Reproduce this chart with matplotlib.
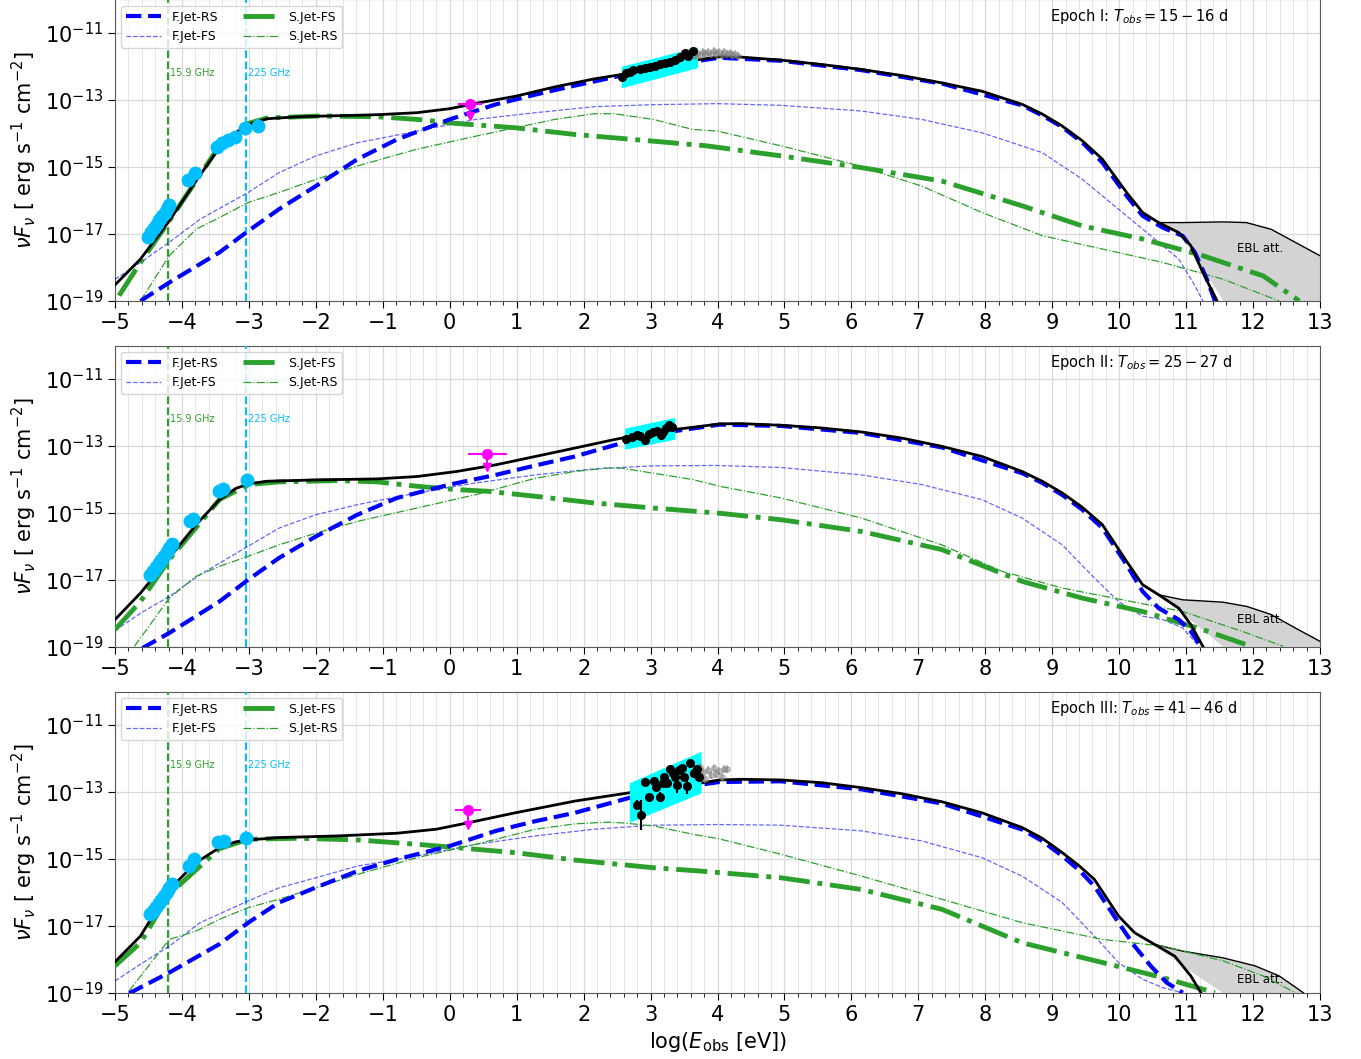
import numpy as np
import matplotlib
matplotlib.use("Agg")
import matplotlib.pyplot as plt
from matplotlib.ticker import MultipleLocator, FixedLocator, NullLocator

# ---------------- data (log10 E [eV], log10 nuFnu) ----------------
epoch_labels = [r"Epoch I: $T_{obs} = 15-16$ d",
                r"Epoch II: $T_{obs} = 25-27$ d",
                r"Epoch III: $T_{obs} = 41-46$ d"]
legend_names = ["F.Jet-RS", "F.Jet-FS", "S.Jet-FS", "S.Jet-RS"]
radio_lines_x = [-4.21, -3.04]
radio_lines_lab = ["15.9 GHz", "225 GHz"]
ebl_text_y = [-17.42, -18.19, -18.61]

# ---- Epoch I ----
p1_tot_x = [-5.0, -4.62, -4.19, -3.79, -3.44, -3.20, -3.01, -2.73, -2.26, -1.08, -0.49, 0.0, 0.45, 0.98, 1.57, 2.16, 2.57, 3.04, 3.63, 4.03,
            4.35, 4.95, 5.55, 6.15, 6.75, 7.35, 7.95, 8.55, 8.85, 9.15, 9.45, 9.75, 10.11, 10.35, 10.59, 10.89, 11.07, 11.25, 11.46]
p1_tot_y = [-18.52, -17.75, -16.61, -15.42, -14.42, -13.98, -13.73, -13.56, -13.50, -13.44, -13.38, -13.26, -13.08, -12.89, -12.61, -12.37, -12.24, -12.04, -11.82, -11.71,
            -11.72, -11.81, -11.94, -12.09, -12.27, -12.49, -12.74, -13.13, -13.42, -13.78, -14.22, -14.77, -15.76, -16.36, -16.66, -16.96, -17.35, -18.15, -18.99]
p1_ebl_x = [10.59, 10.95, 11.55, 11.90, 12.27, 12.63, 13.0]
p1_ebl_y = [-16.66, -16.66, -16.64, -16.66, -16.86, -17.25, -17.65]
p1_frs_x = [-4.62, -4.19, -3.44, -3.01, -2.55, -2.0, -1.38, -0.79, 0.0, 0.69, 1.28, 1.87, 2.57, 3.34, 4.03, 4.95, 6.15, 7.35, 8.55, 8.85, 9.15, 9.45, 9.75, 10.11, 10.35, 10.65, 10.95, 11.13, 11.31, 11.43]
p1_frs_y = [-19.0, -18.45, -17.55, -16.91, -16.26, -15.57, -14.77, -14.18, -13.58, -13.13, -12.84, -12.57, -12.27, -11.94, -11.74, -11.83, -12.11, -12.51, -13.16, -13.46, -13.81, -14.27, -14.87, -15.86, -16.46, -16.81, -17.06, -17.55, -18.35, -19.0]
p1_ffs_x = [-5.0, -4.62, -4.19, -3.73, -3.01, -2.55, -2.0, -1.38, -0.49, 0.39, 1.28, 2.16, 3.04, 4.0, 4.95, 6.15, 7.05, 7.95, 8.85, 9.45, 10.05, 10.53, 10.89, 11.13, 11.25]
p1_ffs_y = [-18.35, -17.85, -17.25, -16.56, -15.76, -15.17, -14.67, -14.28, -13.93, -13.58, -13.38, -13.20, -13.14, -13.11, -13.16, -13.33, -13.58, -13.98, -14.57, -15.37, -16.36, -17.15, -17.75, -18.54, -19.0]
p1_sfs_x = [-4.94, -4.62, -4.19, -3.44, -3.01, -2.73, -1.97, -1.08, -0.49, 0.09, 0.98, 1.87, 3.04, 3.84, 4.95, 6.15, 7.35, 8.55, 9.45, 10.35, 11.25, 12.15, 12.69]
p1_sfs_y = [-18.84, -17.85, -16.61, -14.37, -13.70, -13.54, -13.48, -13.50, -13.58, -13.70, -13.83, -14.03, -14.23, -14.37, -14.67, -15.02, -15.42, -16.16, -16.76, -17.15, -17.65, -18.25, -19.0]
p1_srs_x = [-4.62, -4.19, -3.79, -3.44, -3.01, -2.55, -2.0, -1.38, -0.49, 0.39, 0.98, 1.57, 2.16, 2.45, 3.04, 3.63, 4.0, 4.95, 6.03, 7.05, 7.95, 8.85, 9.75, 10.65, 11.55, 12.39]
p1_srs_y = [-19.0, -17.65, -16.86, -16.51, -16.06, -15.76, -15.37, -14.97, -14.47, -14.08, -13.83, -13.58, -13.41, -13.41, -13.58, -13.88, -13.93, -14.37, -14.92, -15.57, -16.36, -17.05, -17.45, -17.85, -18.35, -19.0]
p1_radio_x = [-4.50, -4.46, -4.42, -4.38, -4.34, -4.30, -4.26, -4.22, -4.19, -3.91, -3.80, -3.48, -3.40, -3.31, -3.21, -3.06, -2.86]
p1_radio_y = [-17.08, -16.95, -16.83, -16.70, -16.59, -16.47, -16.36, -16.24, -16.13, -15.39, -15.18, -14.40, -14.28, -14.19, -14.10, -13.84, -13.78]
p1_radio_err = [0.05, 0.05, 0.05, 0.05, 0.05, 0.05, 0.05, 0.05, 0.05, 0.05, 0.05, 0.05, 0.05, 0.05, 0.05, 0.08, 0.22]
p1_ul = [0.30, -13.13, 0.17, 0.18, 0.35]   # x, y, xerr_lo, xerr_hi, arrow length (dex)
p1_band_x = [2.57, 3.71]
p1_band_lo = [-12.65, -12.05]
p1_band_hi = [-12.01, -11.43]
p1_xr_x = [2.57, 2.64, 2.69, 2.74, 2.84, 2.92, 2.99, 3.06, 3.14, 3.22, 3.29, 3.37, 3.44, 3.51, 3.56, 3.64]
p1_xr_y = [-12.30, -12.20, -12.16, -12.10, -12.08, -12.05, -12.02, -11.99, -11.93, -11.90, -11.86, -11.81, -11.73, -11.61, -11.69, -11.53]
p1_xr_err = [0.05] * 16
p1_gray_x = [3.58, 3.62, 3.66, 3.70, 3.74, 3.78, 3.82, 3.86, 3.90, 3.94, 3.98, 4.02, 4.06, 4.10, 4.14, 4.18, 4.22, 4.26, 4.30]
p1_gray_y = [-11.70, -11.62, -11.68, -11.60, -11.66, -11.58, -11.64, -11.57, -11.63, -11.55, -11.62, -11.58, -11.65, -11.57, -11.63, -11.60, -11.66, -11.62, -11.68]

# ---- Epoch II ----
p2_tot_x = [-5.0, -4.62, -4.19, -3.79, -3.44, -3.20, -3.01, -2.73, -1.97, -1.08, -0.49, 0.10, 0.69, 1.28, 1.87, 2.45, 3.04, 3.63, 4.03,
            4.35, 4.95, 5.55, 6.15, 6.75, 7.35, 7.95, 8.55, 8.85, 9.15, 9.45, 9.75, 10.11, 10.35, 10.59, 10.89, 11.07, 11.25]
p2_tot_y = [-18.18, -17.39, -16.34, -15.35, -14.60, -14.27, -14.13, -14.05, -14.01, -13.98, -13.91, -13.76, -13.56, -13.31, -13.06, -12.81, -12.58, -12.44, -12.34,
            -12.33, -12.38, -12.46, -12.58, -12.76, -13.01, -13.31, -13.76, -14.05, -14.40, -14.83, -15.35, -16.44, -17.14, -17.44, -17.84, -18.33, -18.98]
p2_ebl_x = [10.59, 10.95, 11.55, 11.91, 12.27, 12.63, 13.0]
p2_ebl_y = [-17.44, -17.59, -17.66, -17.79, -18.03, -18.43, -18.83]
p2_frs_x = [-4.59, -4.19, -3.44, -3.01, -2.55, -2.0, -1.38, -0.79, 0.0, 0.69, 1.28, 1.87, 2.57, 3.34, 4.03, 4.95, 6.15, 7.35, 8.55, 8.85, 9.15, 9.45, 9.75, 10.11, 10.35, 10.59, 10.89, 11.07, 11.22]
p2_frs_y = [-19.03, -18.58, -17.64, -16.99, -16.34, -15.70, -15.05, -14.55, -14.15, -13.86, -13.58, -13.31, -12.91, -12.56, -12.36, -12.40, -12.61, -13.04, -13.81, -14.10, -14.46, -14.90, -15.45, -16.54, -17.34, -17.84, -18.18, -18.53, -18.98]
p2_ffs_x = [-5.0, -4.62, -4.19, -3.73, -3.01, -2.55, -2.0, -1.38, -0.49, 0.39, 1.28, 2.16, 3.04, 4.0, 4.95, 6.15, 7.05, 7.95, 8.55, 9.15, 9.63, 9.99, 10.35, 10.65, 10.95, 11.19]
p2_ffs_y = [-18.51, -17.99, -17.49, -16.84, -15.99, -15.45, -15.05, -14.75, -14.40, -14.10, -13.86, -13.68, -13.59, -13.58, -13.64, -13.86, -14.15, -14.60, -15.15, -15.95, -16.94, -17.64, -18.08, -18.18, -18.43, -18.98]
p2_sfs_x = [-5.0, -4.62, -4.19, -3.44, -3.01, -2.55, -1.67, -1.08, -0.49, 0.10, 0.57, 1.28, 2.16, 3.04, 4.0, 4.95, 6.15, 7.35, 8.55, 9.45, 10.35, 11.25, 11.97]
p2_sfs_y = [-18.48, -17.64, -16.39, -14.60, -14.15, -14.07, -14.03, -14.07, -14.20, -14.30, -14.35, -14.50, -14.70, -14.85, -15.00, -15.20, -15.55, -16.09, -17.04, -17.54, -17.94, -18.48, -18.98]
p2_srs_x = [-4.71, -4.19, -3.79, -3.44, -3.01, -2.55, -2.0, -1.38, -0.49, 0.39, 1.28, 1.87, 2.34, 2.57, 3.04, 3.63, 4.03, 4.95, 6.15, 7.35, 8.25, 9.15, 10.05, 10.95, 11.85, 12.45]
p2_srs_y = [-18.98, -17.54, -16.89, -16.59, -16.29, -15.95, -15.60, -15.25, -14.85, -14.45, -13.96, -13.76, -13.66, -13.66, -13.81, -14.00, -14.20, -14.55, -15.15, -15.95, -16.74, -17.24, -17.59, -17.94, -18.54, -18.98]
p2_radio_x = [-4.47, -4.43, -4.39, -4.35, -4.31, -4.27, -4.23, -4.19, -4.15, -3.88, -3.84, -3.44, -3.38, -3.03]
p2_radio_y = [-16.84, -16.73, -16.61, -16.50, -16.39, -16.27, -16.16, -16.04, -15.93, -15.23, -15.17, -14.35, -14.29, -14.02]
p2_radio_err = [0.05] * 14
p2_ul = [0.56, -13.24, 0.29, 0.29, 0.40]
p2_band_x = [2.62, 3.37]
p2_band_lo = [-13.11, -12.81]
p2_band_hi = [-12.48, -12.16]
p2_xr_x = [2.63, 2.72, 2.80, 2.84, 2.91, 2.98, 3.04, 3.09, 3.15, 3.19, 3.23, 3.28, 3.32]
p2_xr_y = [-12.78, -12.74, -12.66, -12.71, -12.81, -12.64, -12.58, -12.54, -12.66, -12.58, -12.46, -12.38, -12.44]
p2_xr_err = [0.05] * 13
p2_gray_x = []
p2_gray_y = []

# ---- Epoch III ----
p3_tot_x = [-5.0, -4.62, -4.19, -3.79, -3.44, -3.20, -3.01, -2.55, -1.67, -0.79, -0.20, 0.27, 0.98, 1.87, 2.69, 3.34, 4.03,
            4.35, 4.95, 5.55, 6.15, 6.75, 7.35, 7.95, 8.55, 8.85, 9.15, 9.40, 9.63, 9.99, 10.23, 10.53, 10.83, 11.07, 11.22]
p3_tot_y = [-18.07, -17.30, -15.91, -15.11, -14.66, -14.49, -14.43, -14.36, -14.31, -14.23, -14.11, -13.92, -13.62, -13.27, -13.02, -12.87, -12.64,
            -12.62, -12.64, -12.72, -12.87, -13.05, -13.29, -13.62, -14.06, -14.38, -14.81, -15.20, -15.61, -16.70, -17.20, -17.55, -17.90, -18.49, -18.99]
p3_ebl_x = [10.53, 10.95, 11.55, 12.03, 12.39, 12.75]
p3_ebl_y = [-17.55, -17.75, -17.95, -18.19, -18.49, -18.99]
p3_frs_x = [-4.79, -4.19, -3.44, -3.01, -2.55, -2.0, -1.38, -0.79, 0.0, 0.69, 1.28, 1.87, 2.69, 3.34, 4.03, 4.95, 6.15, 7.35, 8.55, 8.85, 9.15, 9.40, 9.63, 9.99, 10.23, 10.47, 10.71, 10.95]
p3_frs_y = [-19.01, -18.39, -17.54, -16.90, -16.30, -15.85, -15.36, -15.01, -14.61, -14.16, -13.87, -13.62, -13.17, -12.90, -12.70, -12.68, -12.92, -13.34, -14.12, -14.46, -14.91, -15.33, -15.81, -16.90, -17.60, -18.19, -18.69, -18.99]
p3_ffs_x = [-5.0, -4.62, -4.19, -3.73, -3.01, -2.55, -2.0, -1.38, -0.49, 0.39, 1.28, 2.16, 3.04, 4.0, 4.95, 6.15, 7.05, 7.95, 8.55, 9.15, 9.63, 9.99, 10.35, 10.65, 10.95]
p3_ffs_y = [-18.64, -18.14, -17.60, -16.90, -16.25, -15.86, -15.56, -15.21, -14.91, -14.56, -14.31, -14.11, -13.99, -13.97, -13.99, -14.16, -14.46, -14.96, -15.51, -16.30, -17.30, -18.09, -18.59, -18.84, -18.99]
p3_sfs_x = [-5.0, -4.62, -4.19, -3.44, -3.01, -2.26, -1.38, -0.49, 0.10, 0.98, 1.87, 3.04, 3.75, 4.95, 6.15, 7.35, 8.55, 9.75, 10.65, 11.43]
p3_sfs_y = [-18.19, -17.50, -16.05, -14.69, -14.41, -14.38, -14.43, -14.56, -14.66, -14.81, -15.03, -15.26, -15.36, -15.56, -15.91, -16.50, -17.50, -18.09, -18.54, -18.99]
p3_srs_x = [-4.79, -4.19, -3.79, -3.44, -3.01, -2.55, -2.0, -1.38, -0.49, 0.39, 1.28, 1.87, 2.34, 2.57, 3.04, 3.63, 4.03, 4.95, 6.15, 7.35, 8.55, 9.75, 10.65, 11.55, 12.15, 12.63]
p3_srs_y = [-18.94, -17.40, -17.15, -16.80, -16.45, -16.20, -15.86, -15.46, -14.96, -14.56, -14.11, -13.95, -13.90, -13.92, -14.01, -14.26, -14.40, -14.86, -15.51, -16.20, -16.90, -17.40, -17.60, -18.04, -18.49, -18.99]
p3_radio_x = [-4.47, -4.43, -4.39, -4.35, -4.31, -4.27, -4.23, -4.19, -4.15, -3.90, -3.82, -3.46, -3.37, -3.04]
p3_radio_y = [-16.65, -16.54, -16.43, -16.32, -16.21, -16.09, -15.98, -15.87, -15.76, -15.21, -14.99, -14.49, -14.46, -14.37]
p3_radio_err = [0.05] * 14
p3_ul = [0.27, -13.54, 0.19, 0.20, 0.43]
p3_band_x = [2.69, 3.76]
p3_band_lo = [-13.92, -13.04]
p3_band_hi = [-12.74, -11.80]
p3_xr_x = [2.79, 2.85, 2.92, 2.98, 3.05, 3.08, 3.14, 3.18, 3.20, 3.24, 3.29, 3.33, 3.37, 3.40, 3.43, 3.47, 3.50, 3.54, 3.59, 3.65, 3.70, 3.72]
p3_xr_y = [-13.39, -13.69, -12.69, -13.16, -12.67, -12.84, -13.14, -12.74, -12.54, -12.74, -12.32, -12.42, -12.54, -12.79, -12.34, -12.29, -12.54, -12.82, -12.13, -12.44, -12.32, -12.54]
p3_xr_err = [0.15, 0.45, 0.08, 0.12, 0.08, 0.10, 0.15, 0.08, 0.08, 0.08, 0.10, 0.08, 0.10, 0.25, 0.08, 0.08, 0.10, 0.25, 0.08, 0.10, 0.10, 0.12]
p3_gray_x = [3.62, 3.66, 3.70, 3.74, 3.78, 3.82, 3.86, 3.90, 3.94, 3.98, 4.02, 4.06, 4.10, 4.14]
p3_gray_y = [-12.45, -12.30, -12.55, -12.25, -12.40, -12.62, -12.35, -12.50, -12.28, -12.45, -12.38, -12.55, -12.32, -12.30]

panels = [
    dict(tot=(p1_tot_x, p1_tot_y), ebl=(p1_ebl_x, p1_ebl_y), frs=(p1_frs_x, p1_frs_y), ffs=(p1_ffs_x, p1_ffs_y),
         sfs=(p1_sfs_x, p1_sfs_y), srs=(p1_srs_x, p1_srs_y), radio=(p1_radio_x, p1_radio_y, p1_radio_err), ul=p1_ul,
         band=(p1_band_x, p1_band_lo, p1_band_hi), xr=(p1_xr_x, p1_xr_y, p1_xr_err), gray=(p1_gray_x, p1_gray_y)),
    dict(tot=(p2_tot_x, p2_tot_y), ebl=(p2_ebl_x, p2_ebl_y), frs=(p2_frs_x, p2_frs_y), ffs=(p2_ffs_x, p2_ffs_y),
         sfs=(p2_sfs_x, p2_sfs_y), srs=(p2_srs_x, p2_srs_y), radio=(p2_radio_x, p2_radio_y, p2_radio_err), ul=p2_ul,
         band=(p2_band_x, p2_band_lo, p2_band_hi), xr=(p2_xr_x, p2_xr_y, p2_xr_err), gray=(p2_gray_x, p2_gray_y)),
    dict(tot=(p3_tot_x, p3_tot_y), ebl=(p3_ebl_x, p3_ebl_y), frs=(p3_frs_x, p3_frs_y), ffs=(p3_ffs_x, p3_ffs_y),
         sfs=(p3_sfs_x, p3_sfs_y), srs=(p3_srs_x, p3_srs_y), radio=(p3_radio_x, p3_radio_y, p3_radio_err), ul=p3_ul,
         band=(p3_band_x, p3_band_lo, p3_band_hi), xr=(p3_xr_x, p3_xr_y, p3_xr_err), gray=(p3_gray_x, p3_gray_y)),
]

# ---------------- figure ----------------
fig = plt.figure(figsize=(13.61, 10.59), dpi=100)
left, width, height = 0.0845, 0.8854, 0.2847
bottoms = [0.7158, 0.3890, 0.0623]

GREEN = "#2ca02c"
CYANL = "#00bfff"

def P(a):
    return 10.0 ** np.asarray(a, dtype=float)

for i, (d, b) in enumerate(zip(panels, bottoms)):
    ax = fig.add_axes([left, b, width, height])
    ax.set_yscale("log")
    ax.set_xlim(-5, 13)
    ax.set_ylim(1e-19, 1e-10)

    # EBL shaded region
    ex, ey = d["ebl"]
    tx, ty = d["tot"]
    low = np.interp(ex, tx, ty)
    ax.fill_between(ex, P(low), P(ey), color="#d3d3d3", zorder=1, lw=0)
    ax.plot(ex, P(ey), color="black", lw=1.0, zorder=3)
    ax.text(12.1, 10 ** ebl_text_y[i], "EBL att.", fontsize=8.5, ha="center", va="center", zorder=4)

    # model curves
    h1, = ax.plot(d["frs"][0], P(d["frs"][1]), color="blue", ls="--", lw=3.0, zorder=5)
    h2, = ax.plot(d["ffs"][0], P(d["ffs"][1]), color="blue", ls="--", lw=0.9, alpha=0.6, zorder=4)
    h3, = ax.plot(d["sfs"][0], P(d["sfs"][1]), color=GREEN, ls="-.", lw=3.5, zorder=4)
    h4, = ax.plot(d["srs"][0], P(d["srs"][1]), color=GREEN, ls="-.", lw=0.9, zorder=4)
    ax.plot(tx, P(ty), color="black", lw=2.0, zorder=6)

    # vertical radio lines
    ax.axvline(radio_lines_x[0], color=GREEN, ls="--", lw=1.5, zorder=3)
    ax.axvline(radio_lines_x[1], color=CYANL, ls="--", lw=1.5, zorder=3)
    ax.text(radio_lines_x[0] + 0.03, 10 ** -12.2, radio_lines_lab[0], color=GREEN, fontsize=7, va="center", ha="left")
    ax.text(radio_lines_x[1] + 0.03, 10 ** -12.2, radio_lines_lab[1], color=CYANL, fontsize=7, va="center", ha="left")

    # radio data
    rx, ry, re = d["radio"]
    ry = np.asarray(ry); re = np.asarray(re)
    ax.errorbar(rx, P(ry), yerr=[P(ry) - P(ry - re), P(ry + re) - P(ry)], fmt="o", color=CYANL,
                ms=10, mec="none", elinewidth=1.5, zorder=7)

    # optical upper limit
    ux, uy, xl, xh, al = d["ul"]
    ax.errorbar([ux], [10 ** uy], xerr=[[xl], [xh]], fmt="o", color="magenta", ms=7, lw=1.5, zorder=7)
    ax.errorbar([ux], [10 ** uy], yerr=[[10 ** uy - 10 ** (uy - al)], [0]], fmt="none", ecolor="magenta",
                lw=1.5, zorder=7)
    ax.plot([ux], [10 ** (uy - al)], marker="v", color="magenta", ms=6, zorder=7)

    # X-ray band and points
    bx, blo, bhi = d["band"]
    ax.fill([bx[0], bx[1], bx[1], bx[0]], P([blo[0], blo[1], bhi[1], bhi[0]]), color="cyan", lw=0, zorder=6)
    gx, gy = d["gray"]
    if len(gx):
        gy = np.asarray(gy)
        ax.errorbar(gx, P(gy), yerr=[P(gy) - P(gy - 0.12), P(gy + 0.12) - P(gy)], fmt="o", color="gray",
                    ms=4, alpha=0.45, lw=1.5, zorder=6)
    xx, xy, xe = d["xr"]
    xy = np.asarray(xy); xe = np.asarray(xe)
    ax.errorbar(xx, P(xy), yerr=[P(xy) - P(xy - xe), P(xy + xe) - P(xy)], fmt="o", color="black",
                ms=5.5, lw=1.5, zorder=8)

    # axes styling
    ax.xaxis.set_major_locator(MultipleLocator(1))
    ax.xaxis.set_minor_locator(MultipleLocator(0.2))
    ax.yaxis.set_major_locator(FixedLocator([1e-19, 1e-17, 1e-15, 1e-13, 1e-11]))
    ax.yaxis.set_minor_locator(NullLocator())
    ax.grid(which="major", color="0.85", lw=0.9, zorder=0)
    ax.grid(which="minor", axis="x", color="0.9", lw=0.7, zorder=0)
    ax.set_axisbelow(True)
    ax.tick_params(axis="both", which="major", labelsize=15, length=5)
    ax.tick_params(axis="x", which="minor", length=3)
    for s in ax.spines.values():
        s.set_color("0.35")
    ax.set_ylabel(r"$\nu F_\nu$ [ erg s$^{-1}$ cm$^{-2}$]", fontsize=15)

    ax.legend([h1, h2, h3, h4], legend_names, loc="upper left", ncol=2, fontsize=9, handlelength=2.8,
              framealpha=0.8)
    ax.text(0.776, 0.945, epoch_labels[i], transform=ax.transAxes, fontsize=10.5, va="center", ha="left")

    if i == 2:
        ax.set_xlabel(r"$\log(E_{\rm obs}$ [eV])", fontsize=15)

fig.savefig("out.png", dpi=100)
